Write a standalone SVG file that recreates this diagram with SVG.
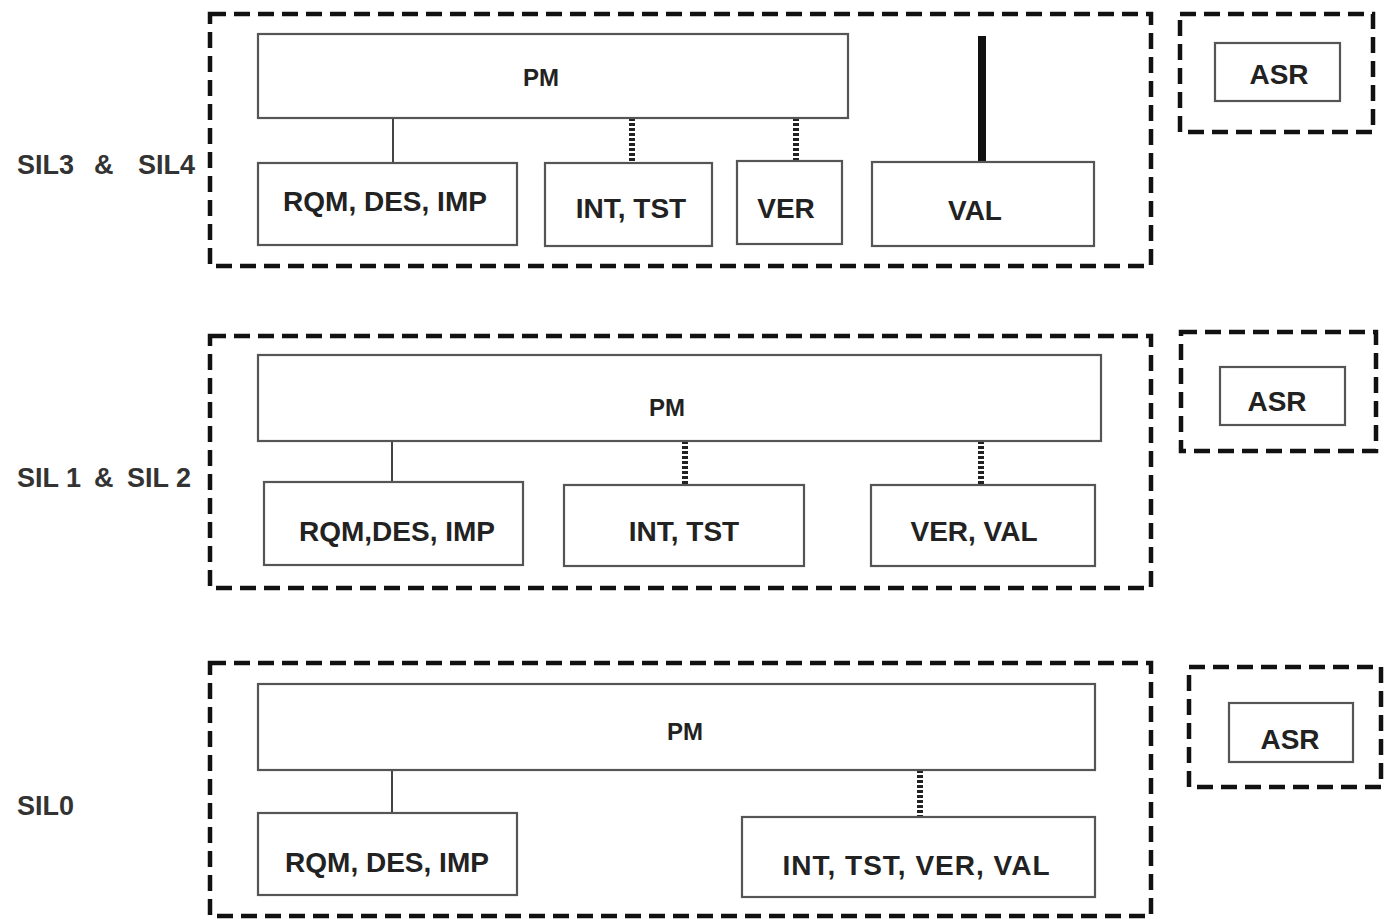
<svg xmlns="http://www.w3.org/2000/svg" width="1384" height="920" viewBox="0 0 1384 920">
<style>
.grp{fill:none;stroke:#111;stroke-width:4.5;stroke-dasharray:16 8}
.box{fill:#fff;stroke:#555;stroke-width:2.2}
.t{font-family:"Liberation Sans",Arial,sans-serif;font-weight:bold;font-size:28px;fill:#222;text-anchor:middle}
.pm{font-size:24px}
.lbl{font-family:"Liberation Sans",Arial,sans-serif;font-weight:bold;font-size:27px;fill:#333}
.solid{stroke:#444;stroke-width:2;fill:none}
.dot{stroke:#222;stroke-width:6;stroke-dasharray:3 2;fill:none}
.thick{stroke:#111;stroke-width:8;fill:none}
</style>
<rect width="1384" height="920" fill="#fff"/>

<!-- group frames -->
<g id="frames">
<rect class="grp" x="210" y="14" width="941" height="252"/>
<rect class="grp" x="1180" y="14" width="193" height="118"/>
<rect class="grp" x="210" y="336" width="941" height="252"/>
<rect class="grp" x="1181" y="332" width="195" height="119"/>
<rect class="grp" x="210" y="663" width="941" height="253"/>
<rect class="grp" x="1189" y="667" width="192" height="120"/>
</g>

<!-- level labels -->
<g id="labels">
<text class="lbl" x="17" y="174">SIL3</text>
<text class="lbl" x="94" y="174">&amp;</text>
<text class="lbl" x="138" y="174">SIL4</text>
<text class="lbl" x="17" y="487">SIL 1</text>
<text class="lbl" x="94" y="487">&amp;</text>
<text class="lbl" x="127" y="487">SIL 2</text>
<text class="lbl" x="17" y="815">SIL0</text>
</g>

<!-- connectors -->
<g id="connectors">
<line class="solid" x1="393" y1="118" x2="393" y2="163"/>
<line class="dot" x1="632" y1="118" x2="632" y2="163"/>
<line class="dot" x1="796" y1="118" x2="796" y2="161"/>
<line class="thick" x1="982" y1="36" x2="982" y2="162"/>
<line class="solid" x1="392" y1="441" x2="392" y2="482"/>
<line class="dot" x1="685" y1="441" x2="685" y2="485"/>
<line class="dot" x1="981" y1="441" x2="981" y2="485"/>
<line class="solid" x1="392" y1="770" x2="392" y2="813"/>
<line class="dot" x1="920" y1="770" x2="920" y2="817"/>
</g>

<!-- section SIL3 & SIL4 -->
<g id="pm1"><rect class="box" x="258" y="34" width="590" height="84"/><text class="t pm" x="541" y="86">PM</text></g>
<g id="rqm1"><rect class="box" x="258" y="163" width="259" height="82"/><text class="t" x="385" y="211">RQM, DES, IMP</text></g>
<g id="inttst1"><rect class="box" x="545" y="163" width="167" height="83"/><text class="t" x="631" y="218">INT, TST</text></g>
<g id="ver1"><rect class="box" x="737" y="161" width="105" height="83"/><text class="t" x="786" y="218">VER</text></g>
<g id="val1"><rect class="box" x="872" y="162" width="222" height="84"/><text class="t" x="975" y="220">VAL</text></g>
<g id="asr1"><rect class="box" x="1215" y="43" width="125" height="58"/><text class="t" x="1279" y="84">ASR</text></g>

<!-- section SIL1 & SIL2 -->
<g id="pm2"><rect class="box" x="258" y="355" width="843" height="86"/><text class="t pm" x="667" y="416">PM</text></g>
<g id="rqm2"><rect class="box" x="264" y="482" width="259" height="83"/><text class="t" x="397" y="541">RQM,DES, IMP</text></g>
<g id="inttst2"><rect class="box" x="564" y="485" width="240" height="81"/><text class="t" x="684" y="541">INT, TST</text></g>
<g id="verval2"><rect class="box" x="871" y="485" width="224" height="81"/><text class="t" x="974" y="541">VER, VAL</text></g>
<g id="asr2"><rect class="box" x="1220" y="367" width="125" height="58"/><text class="t" x="1277" y="411">ASR</text></g>

<!-- section SIL0 -->
<g id="pm3"><rect class="box" x="258" y="684" width="837" height="86"/><text class="t pm" x="685" y="740">PM</text></g>
<g id="rqm3"><rect class="box" x="258" y="813" width="259" height="82"/><text class="t" x="387" y="872">RQM, DES, IMP</text></g>
<g id="all3"><rect class="box" x="742" y="817" width="353" height="80"/><text class="t" x="916" y="875" textLength="267">INT, TST, VER, VAL</text></g>
<g id="asr3"><rect class="box" x="1229" y="703" width="124" height="59"/><text class="t" x="1290" y="749">ASR</text></g>
</svg>
